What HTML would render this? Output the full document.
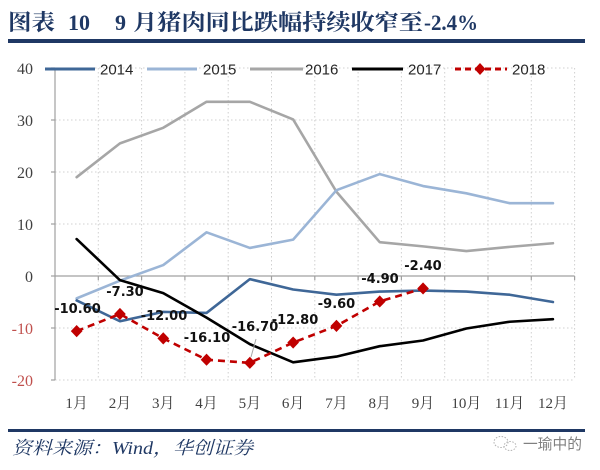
<!DOCTYPE html>
<html><head><meta charset="utf-8"><style>
html,body{margin:0;padding:0;background:#fff;}
svg{display:block;}
</style></head><body>
<svg width="600" height="470" viewBox="0 0 600 470" xmlns="http://www.w3.org/2000/svg">
<rect width="600" height="470" fill="#fff"/>
<!-- title -->
<g fill="#1f3864" font-weight="bold">
<text x="8" y="30" font-family="'Noto Serif CJK SC','Noto Sans CJK SC',serif" font-size="22" textLength="47" lengthAdjust="spacingAndGlyphs">图表</text>
<text x="68" y="30" font-family="'Liberation Serif',serif" font-size="22">10</text>
<text x="115" y="30" font-family="'Liberation Serif',serif" font-size="22">9</text>
<text x="133" y="30" font-family="'Noto Serif CJK SC','Noto Sans CJK SC',serif" font-size="22" textLength="290" lengthAdjust="spacingAndGlyphs">月猪肉同比跌幅持续收窄至</text>
<text x="424" y="30" font-family="'Liberation Serif',serif" font-size="22" textLength="54" lengthAdjust="spacingAndGlyphs">-2.4%</text>
</g>
<rect x="8" y="39" width="577" height="4" fill="#1f3864"/>

<!-- grid -->
<g stroke="#d0d0d0" stroke-width="1" stroke-dasharray="1.5,2.5" fill="none">
<line x1="55" y1="68" x2="574.6" y2="68"/>
<line x1="55" y1="120" x2="574.6" y2="120"/>
<line x1="55" y1="172" x2="574.6" y2="172"/>
<line x1="55" y1="224" x2="574.6" y2="224"/>
<line x1="55" y1="328" x2="574.6" y2="328"/>
<line x1="55" y1="380" x2="574.6" y2="380"/>
<line x1="98.3" y1="68" x2="98.3" y2="380"/>
<line x1="141.6" y1="68" x2="141.6" y2="380"/>
<line x1="184.9" y1="68" x2="184.9" y2="380"/>
<line x1="228.2" y1="68" x2="228.2" y2="380"/>
<line x1="271.5" y1="68" x2="271.5" y2="380"/>
<line x1="314.8" y1="68" x2="314.8" y2="380"/>
<line x1="358.1" y1="68" x2="358.1" y2="380"/>
<line x1="401.4" y1="68" x2="401.4" y2="380"/>
<line x1="444.7" y1="68" x2="444.7" y2="380"/>
<line x1="488" y1="68" x2="488" y2="380"/>
<line x1="531.3" y1="68" x2="531.3" y2="380"/>
<line x1="574.6" y1="68" x2="574.6" y2="380"/>
</g>
<!-- axes -->
<g stroke="#a0a0a0" stroke-width="1.2" fill="none">
<line x1="55" y1="68" x2="55" y2="380"/>
<line x1="55" y1="276" x2="574.6" y2="276"/>
<line x1="51" y1="68" x2="55" y2="68"/>
<line x1="51" y1="120" x2="55" y2="120"/>
<line x1="51" y1="172" x2="55" y2="172"/>
<line x1="51" y1="224" x2="55" y2="224"/>
<line x1="51" y1="276" x2="55" y2="276"/>
<line x1="51" y1="328" x2="55" y2="328"/>
<line x1="51" y1="380" x2="55" y2="380"/>
<line x1="98.3" y1="276" x2="98.3" y2="280"/>
<line x1="141.6" y1="276" x2="141.6" y2="280"/>
<line x1="184.9" y1="276" x2="184.9" y2="280"/>
<line x1="228.2" y1="276" x2="228.2" y2="280"/>
<line x1="271.5" y1="276" x2="271.5" y2="280"/>
<line x1="314.8" y1="276" x2="314.8" y2="280"/>
<line x1="358.1" y1="276" x2="358.1" y2="280"/>
<line x1="401.4" y1="276" x2="401.4" y2="280"/>
<line x1="444.7" y1="276" x2="444.7" y2="280"/>
<line x1="488" y1="276" x2="488" y2="280"/>
<line x1="531.3" y1="276" x2="531.3" y2="280"/>
<line x1="574.6" y1="276" x2="574.6" y2="280"/>
</g>
<!-- y labels -->
<g font-family="'Liberation Serif',serif" font-size="16" text-anchor="end">
<text x="33" y="74" fill="#404040">40</text>
<text x="33" y="126" fill="#404040">30</text>
<text x="33" y="178" fill="#404040">20</text>
<text x="33" y="230" fill="#404040">10</text>
<text x="33" y="282" fill="#404040">0</text>
<text x="33" y="334" fill="#c0504d">-10</text>
<text x="33" y="386" fill="#c0504d">-20</text>
</g>
<!-- x labels -->
<g font-family="'Liberation Serif','Noto Serif CJK SC',serif" font-size="15" text-anchor="middle" fill="#404040">
<text x="76.65" y="408">1月</text>
<text x="119.95" y="408">2月</text>
<text x="163.25" y="408">3月</text>
<text x="206.55" y="408">4月</text>
<text x="249.85" y="408">5月</text>
<text x="293.15" y="408">6月</text>
<text x="336.45" y="408">7月</text>
<text x="379.75" y="408">8月</text>
<text x="423.05" y="408">9月</text>
<text x="466.35" y="408">10月</text>
<text x="509.65" y="408">11月</text>
<text x="552.95" y="408">12月</text>
</g>

<!-- series -->
<g fill="none" stroke-width="2.6" stroke-linejoin="round" stroke-linecap="round">
<polyline stroke="#a6a6a6" points="76.65,177.2 119.95,143.4 163.25,127.8 206.55,101.8 249.85,101.8 293.15,119.48 336.45,191.76 379.75,242.2 423.05,246.36 466.35,251.04 509.65,246.88 552.95,243.24"/>
<polyline stroke="#9bb5d6" points="76.65,298.36 119.95,280.68 163.25,265.08 206.55,232.32 249.85,247.92 293.15,239.6 336.45,190.2 379.75,174.08 423.05,186.04 466.35,193.32 509.65,203.2 552.95,203.2"/>
<polyline stroke="#3f6797" points="76.65,300.44 119.95,321.24 163.25,311.88 206.55,312.92 249.85,279.12 293.15,289.52 336.45,294.72 379.75,291.6 423.05,290.56 466.35,291.6 509.65,294.72 552.95,302"/>
<polyline stroke="#000" points="76.65,239.08 119.95,280.16 163.25,293.16 206.55,317.6 249.85,344.12 293.15,362.32 336.45,356.6 379.75,346.2 423.05,340.48 466.35,328.52 509.65,321.76 552.95,319.16"/>
<polyline stroke="#c00000" stroke-dasharray="7,5" stroke-linecap="butt" points="76.65,331.12 119.95,313.96 163.25,338.4 206.55,359.72 249.85,362.84 293.15,342.56 336.45,325.92 379.75,301.48 423.05,288.48"/>
</g>
<g fill="#c00000">
<path d="M76.65,325 L82.5,331.12 L76.65,337.2 L70.8,331.12Z"/>
<path d="M119.95,307.9 L125.8,313.96 L119.95,320 L114.1,313.96Z"/>
<path d="M163.25,332.3 L169.1,338.4 L163.25,344.5 L157.4,338.4Z"/>
<path d="M206.55,353.6 L212.4,359.72 L206.55,365.8 L200.7,359.72Z"/>
<path d="M249.85,356.8 L255.7,362.84 L249.85,368.9 L244,362.84Z"/>
<path d="M293.15,336.5 L299,342.56 L293.15,348.6 L287.3,342.56Z"/>
<path d="M336.45,319.8 L342.3,325.92 L336.45,332 L330.6,325.92Z"/>
<path d="M379.75,295.4 L385.6,301.48 L379.75,307.5 L373.9,301.48Z"/>
<path d="M423.05,282.4 L428.9,288.48 L423.05,294.5 L417.2,288.48Z"/>
</g>
<line x1="256" y1="339" x2="251" y2="357" stroke="#a6a6a6" stroke-width="1"/>
<!-- data labels -->
<g font-family="'DejaVu Sans',sans-serif" font-weight="bold" font-size="13" text-anchor="middle" fill="#111">
<text x="77.5" y="313">-10.60</text>
<text x="125" y="296">-7.30</text>
<text x="164" y="320">-12.00</text>
<text x="207" y="342">-16.10</text>
<text x="255" y="331">-16.70</text>
<text x="295" y="324">-12.80</text>
<text x="336.5" y="308">-9.60</text>
<text x="380" y="283">-4.90</text>
<text x="423" y="270">-2.40</text>
</g>

<!-- legend -->
<g stroke-width="3" fill="none">
<line x1="45" y1="69" x2="95" y2="69" stroke="#3f6797"/>
<line x1="147" y1="69" x2="197" y2="69" stroke="#9bb5d6"/>
<line x1="250" y1="69" x2="303" y2="69" stroke="#a6a6a6"/>
<line x1="352" y1="69" x2="403" y2="69" stroke="#000"/>
<line x1="455" y1="69" x2="507" y2="69" stroke="#c00000" stroke-dasharray="6,4"/>
</g>
<path d="M480,63 L485.5,69 L480,75 L474.5,69Z" fill="#c00000"/>
<g font-family="'Liberation Sans',sans-serif" font-size="15" fill="#262626">
<text x="100" y="74.5">2014</text>
<text x="203" y="74.5">2015</text>
<text x="305" y="74.5">2016</text>
<text x="408" y="74.5">2017</text>
<text x="512" y="74.5">2018</text>
</g>

<!-- footer -->
<rect x="8" y="429" width="577" height="3" fill="#1f3864"/>
<text x="12" y="454" font-family="'Liberation Serif','Noto Serif CJK SC',serif" font-style="italic" font-size="18" fill="#1f3864" textLength="241" lengthAdjust="spacingAndGlyphs">资料来源：Wind，华创证券</text>
<g fill="none" stroke="#b0b0b0" stroke-width="1" stroke-dasharray="1.5,1.5">
<ellipse cx="501" cy="442" rx="7" ry="5.5"/>
<ellipse cx="510" cy="446" rx="6" ry="4.5"/>
</g>
<text x="523" y="449" font-family="'Noto Sans CJK SC',sans-serif" font-size="15" fill="#808080" textLength="59" lengthAdjust="spacingAndGlyphs">一瑜中的</text>
</svg>
</body></html>
